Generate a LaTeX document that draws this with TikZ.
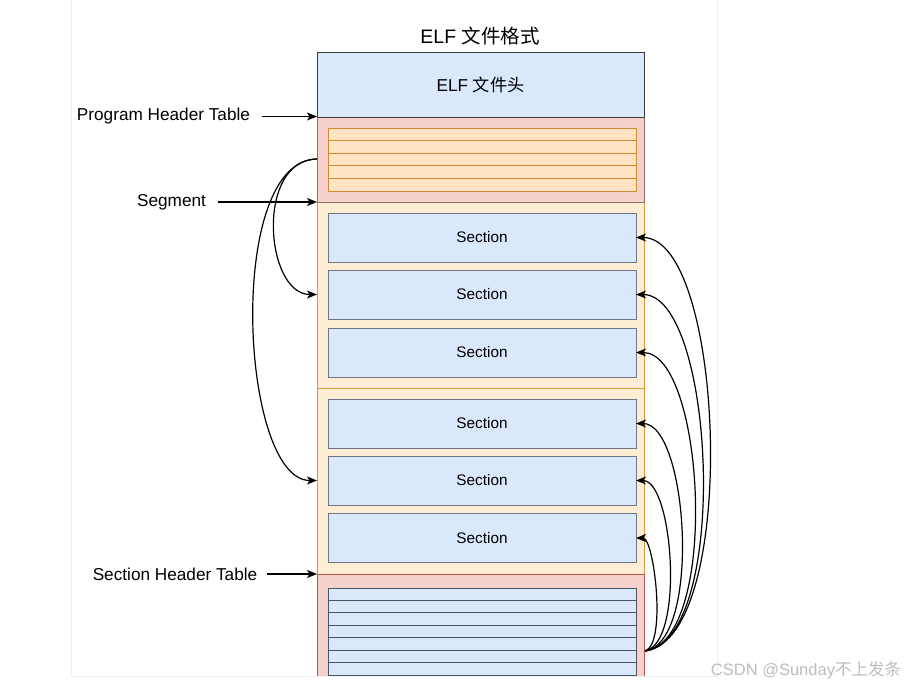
\documentclass[tikz,border=0pt]{standalone}
\usepackage{fontspec}
\setmainfont{Liberation Sans}
\newfontfamily\cjk{Noto Sans CJK SC}
\usetikzlibrary{arrows.meta}
\definecolor{hdrblue}{HTML}{DAE8FC}
\definecolor{hdrline}{HTML}{3A3A3A}
\definecolor{pinkfill}{HTML}{F6D0CA}
\definecolor{pinkline}{HTML}{9A6A6A}
\definecolor{shtline}{HTML}{B85450}
\definecolor{segfill}{HTML}{FCEDD4}
\definecolor{segline}{HTML}{D99A3A}
\definecolor{orfill}{HTML}{FFE4C4}
\definecolor{orline}{HTML}{D08A35}
\definecolor{secline}{HTML}{6E7585}
\definecolor{rowline}{HTML}{4A5568}
\definecolor{framegray}{HTML}{F0F0F0}
\definecolor{wmgray}{HTML}{BDBDBD}
\begin{document}
\begin{tikzpicture}[x=1pt,y=-1pt,
  box/.style={rectangle, anchor=north west, inner sep=0pt, outer sep=0pt},
  hdrbox/.style={box, fill=hdrblue, draw=hdrline, line width=0.8pt},
  phtbox/.style={box, fill=pinkfill, draw=pinkline, line width=0.8pt},
  segbox/.style={box, fill=segfill, draw=segline, line width=0.9pt},
  tabbox/.style={box, fill=orfill, draw=orline, line width=0.8pt},
  secbox/.style={rectangle, inner sep=0pt, outer sep=0pt, fill=hdrblue, draw=secline, line width=0.8pt,
    minimum width=308pt, minimum height=49pt, font=\fontsize{15.3}{18}\selectfont},
  lbl/.style={inner sep=0pt, font=\fontsize{17.2}{20}\selectfont},
  arr/.style={-{Stealth[length=10pt,width=8pt,inset=2.5pt]}, line width=1.2pt, black}
]
\useasboundingbox (0,0) rectangle (907,686);
\fill[white] (0,0) rectangle (907,686);
% faint frame
\draw[framegray, line width=0.8pt] (71,0) -- (71,676) -- (717,676) -- (717,0);

% title
\node[inner sep=0pt, font=\fontsize{19.5}{23}\selectfont] (title) at (480,36) {ELF {\cjk 文件格式}};

% segments
\node[segbox, minimum width=327pt, minimum height=186pt] (seg1) at (317,202) {};
\node[segbox, minimum width=327pt, minimum height=186pt] (seg2) at (317,388) {};

% program header table
\node[phtbox, minimum width=327pt, minimum height=85pt] (pht) at (317,117) {};
\node[tabbox, minimum width=308pt, minimum height=63pt] (phti) at (328,128) {};
\foreach \y in {140.6,153.2,165.8,178.4}
  \draw[orline, line width=0.8pt] (328,\y) -- (636,\y);

% header
\node[hdrbox, minimum width=327pt, minimum height=65pt] (hdr) at (317,52) {};
\node[inner sep=0pt, font=\fontsize{17.2}{20}\selectfont] (hdrtxt) at (hdr.center) {ELF {\cjk 文件头}};

% section header table (cut by the frame)
\node[box, fill=pinkfill, minimum width=327pt, minimum height=102pt] (sht) at (317,574) {};
\draw[shtline, line width=0.8pt] (sht.south west) -- (sht.north west) -- (sht.north east) -- (sht.south east);
\node[box, fill=hdrblue, minimum width=308pt, minimum height=88pt] (shti) at (328,588) {};
\draw[rowline, line width=0.8pt] (shti.south west) -- (shti.north west) -- (shti.north east) -- (shti.south east);
\foreach \y in {600.3,612.8,625.3,637.8,650.3,662.8,675.3}
  \draw[rowline, line width=0.8pt] (328,\y) -- (636,\y);

% sections
\node[secbox] (s1) at (482,237.5) {Section};
\node[secbox] (s2) at (482,294.5) {Section};
\node[secbox] (s3) at (482,352.5) {Section};
\node[secbox] (s4) at (482,423.5) {Section};
\node[secbox] (s5) at (482,480.5) {Section};
\node[secbox] (s6) at (482,538) {Section};

% left labels
\node[lbl] (lpht) at (163.5,116.5) {Program Header Table};
\node[lbl] (lseg) at (171.5,202) {Segment};
\node[lbl] (lsht) at (175,574) {Section Header Table};
\draw[arr] ([xshift=12pt]lpht.east) -- (lpht.east -| pht.west);
\draw[arr] ([xshift=12pt]lseg.east) -- (lseg.east -| seg1.west);
\draw[arr] ([xshift=10pt]lsht.east) -- (lsht.east -| sht.west);

% segment curves (left)
\coordinate (phtL) at (317,159);
\draw[arr] (phtL) .. controls +(-62,1) and +(-52,0) .. (seg1.west |- s2.west);
\draw[arr] (phtL) .. controls +(-92,1) and +(-77,0) .. (seg2.west |- s5.west);

% section header curves (right)
\coordinate (shtR) at (645,651);
\foreach \n/\k/\h/\m in {1/95/12/89, 2/86/11/79, 3/75/10/69, 4/57/9/52, 5/40/8/37, 6/22/7/18}
  \draw[arr] (shtR) .. controls +(\k,-\h) and +(\m,0) .. (s\n.east);

% watermark
\node[inner sep=0pt, text=wmgray, font=\fontsize{16.5}{19}\selectfont] (wm) at (806,670) {CSDN @Sunday{\cjk 不上发条}};
\end{tikzpicture}
\end{document}
